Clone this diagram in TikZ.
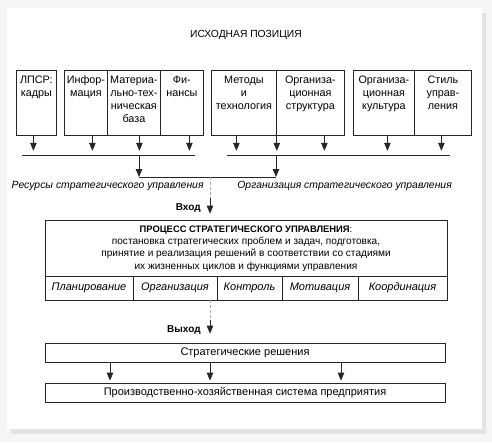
\documentclass[tikz,border=0pt]{standalone}
\usepackage{fontspec}
\setmainfont{Liberation Sans}
\usetikzlibrary{arrows.meta,calc,positioning}

\begin{document}
\begin{tikzpicture}[x=1pt,y=-1pt,line width=0.8pt,
    box/.style={draw=black!85,minimum width=#1,minimum height=65,inner sep=0pt},
    boxtxt/.style={anchor=north,align=center,inner sep=0pt,font=\fontsize{10.8}{13.2}\selectfont},
    wide/.style={draw=black!85,minimum width=#1,inner sep=0pt,font=\fontsize{11}{13}\selectfont},
    cell/.style={draw=black!85,minimum height=24,inner sep=0pt,font=\fontsize{11}{13}\selectfont\itshape},
    lbl/.style={inner sep=0pt,font=\fontsize{10.4}{12}\selectfont\itshape},
    strong/.style={inner sep=0pt,font=\fontsize{10}{12}\selectfont\bfseries},
    arr/.style={draw=black!85,-{Triangle[width=6.5pt,length=8pt]}},
    dashline/.style={draw=gray!70,dash pattern=on 3pt off 2pt}]
  \useasboundingbox (0,0) rectangle (492,442);
  % frame with shadow
  \fill[gray!8] (0,0) rectangle (492,442);
  \fill[gray!22] (11,13) rectangle (486,434);
  \fill[white] (7,8) rectangle (482,429);

  \node[inner sep=0pt,font=\fontsize{10.3}{12}\selectfont] (title) at (246,35) {ИСХОДНАЯ ПОЗИЦИЯ};

  % resources
  \node[box=40,anchor=north west] (lpsr) at (16,70) {};
  \node[box=43,anchor=north west] (info) at (64,70) {};
  \node[box=53,anchor=north west] (mtb) at (107,70) {};
  \node[box=43,anchor=north west] (fin) at (160,70) {};
  % organisation
  \node[box=65,anchor=north west] (met) at (211,70) {};
  \node[box=68,anchor=north west] (ost) at (276,70) {};
  \node[box=61,anchor=north west] (okult) at (353,70) {};
  \node[box=57,anchor=north west] (stil) at (414,70) {};

  \node[boxtxt,below=5.5pt of lpsr.north] (lpsrt) {ЛПСР:\\кадры};
  \node[boxtxt,below=5.5pt of info.north] (infot) {Инфор-\\мация};
  \node[boxtxt,below=5.5pt of mtb.north] (mtbt) {Материа-\\льно-тех-\\ническая\\база};
  \node[boxtxt,below=5.5pt of fin.north] (fint) {Фи-\\нансы};
  \node[boxtxt,below=5.5pt of met.north] (mett) {Методы\\и\\технология};
  \node[boxtxt,below=5.5pt of ost.north] (ostt) {Организа-\\ционная\\структура};
  \node[boxtxt,below=5.5pt of okult.north] (okultt) {Организа-\\ционная\\культура};
  \node[boxtxt,below=5.5pt of stil.north] (stilt) {Стиль\\управ-\\ления};

  \foreach \b/\dx in {lpsr/-3,info/6.5,mtb/5.5,fin/7.5,met/-7.5,ost/14,okult/3.5,stil/-1.5}
    \draw[arr] ([xshift=\dx pt]\b.south) -- ++(0,15);
  \draw[arr] (met.south east) -- ++(0,15);

  \coordinate (l1a) at (22,155);
  \coordinate (l1b) at (195,155);
  \coordinate (l2a) at (227,155);
  \coordinate (l2b) at (450,155);
  \draw[black!85] (l1a) -- (l1b);
  \draw[black!85] (l2a) -- (l2b);

  \coordinate (res) at (139,177);
  \coordinate (org) at (276,177);
  \coordinate (inp) at (210,177);
  \draw[arr] (l1a -| res) -- (res);
  \draw[arr] (l2a -| org) -- (org);
  \draw[black!85] (res) -- (org);

  \node[lbl,anchor=east] (resl) at (204,186) {Ресурсы стратегического управления};
  \node[lbl,anchor=west] (orgl) at (237,186) {Организация стратегического управления};

  % process
  \node[wide=402,minimum height=80] (proc) at (246,260) {};
  \node[inner sep=0pt,align=center,font=\fontsize{10.1}{12.4}\selectfont,below=5.5pt of proc.north] (proct)
    {{\fontsize{9.4}{12}\selectfont\textbf{ПРОЦЕСС СТРАТЕГИЧЕСКОГО УПРАВЛЕНИЯ}:}\\
     постановка стратегических проблем и задач, подготовка,\\
     принятие и реализация решений в соответствии со стадиями\\
     их жизненных циклов и функциями управления};
  \foreach \l/\r/\nm/\t in {45/133/plan/Планирование,133/217/orgf/Организация,
      217/282/kontr/Контроль,282/358/motiv/Мотивация,358/447/koord/Координация}
    \node[cell,minimum width=\r-\l] (\nm) at ({(\l+\r)/2},288) {\t};

  \draw[dashline] (inp) -- ++(0,21) coordinate (inp2);
  \draw[arr,shorten >=6pt] (inp2) -- (proc.north -| inp);
  \node[strong,anchor=east] (vhod) at (201,208) {Вход};

  % output
  \node[wide=400,minimum height=19] (sr) at (245,352.5) {Стратегические решения};
  \node[wide=400,minimum height=19] (prs) at (245,392.5) {Производственно-хозяйственная система предприятия};
  \draw[dashline] (proc.south -| inp) -- ++(0,20) coordinate (out2);
  \draw[arr,shorten >=9pt] (out2) -- (sr.north -| inp);
  \node[strong,anchor=east] (vyhod) at (201,330) {Выход};
  \foreach \dx in {-135,-35,96}
    \draw[arr,shorten >=2pt] ([xshift=\dx pt]sr.south) -- ([xshift=\dx pt]prs.north);
\end{tikzpicture}
\end{document}
